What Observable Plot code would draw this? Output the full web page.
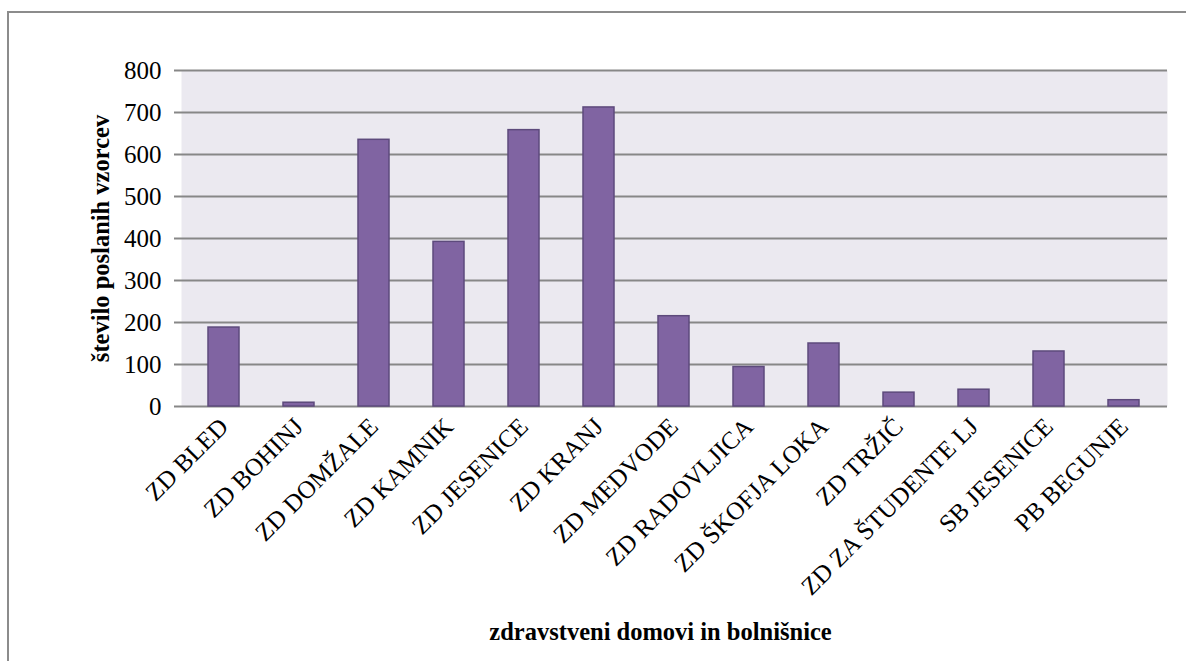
<!DOCTYPE html>
<html><head><meta charset="utf-8">
<script src="https://cdn.jsdelivr.net/npm/d3@7"></script>
<script src="https://cdn.jsdelivr.net/npm/@observablehq/plot@0.6"></script>
<style>
html,body{margin:0;padding:0;background:#fff;overflow:hidden;}
#wrap{position:relative;width:1186px;height:661px;overflow:hidden;}
#border{position:absolute;left:7px;top:11px;width:1300px;height:800px;border-left:2px solid #8c8c8c;border-top:2px solid #8c8c8c;}
#chart{position:absolute;left:0;top:0;}
#chart svg, #chart svg text{font-family:'Liberation Serif','Times New Roman',serif !important;fill:#000;}
#chart g[aria-label="y-axis tick label"] text, #chart g[aria-label="x-axis tick label"] text{font-size:25px !important;}
#chart g[aria-label="y-axis label"] text, #chart g[aria-label="text"] text{font-weight:bold;font-size:24.5px !important;}
</style></head><body>
<div id="wrap"><div id="border"></div><div id="chart"></div></div>
<script>
const categories = ["ZD BLED","ZD BOHINJ","ZD DOMŽALE","ZD KAMNIK","ZD JESENICE","ZD KRANJ","ZD MEDVODE","ZD RADOVLJICA","ZD ŠKOFJA LOKA","ZD TRŽIČ","ZD ZA ŠTUDENTE LJ","SB JESENICE","PB BEGUNJE"];
const values = [188, 9, 635, 392, 658, 712, 215, 94, 150, 33, 40, 131, 15];
const yTicks = [0,100,200,300,400,500,600,700,800];
const yTitle = "število poslanih vzorcev";
const xTitle = "zdravstveni domovi in bolnišnice";

const data = categories.map((c, i) => ({name: c, value: values[i]}));

const chart = Plot.plot({
  width: 1186, height: 661,
  marginLeft: 181, marginRight: 19, marginTop: 70, marginBottom: 255,
  style: {fontFamily: "'Liberation Serif','Times New Roman',serif", color: "#000", background: "transparent", overflow: "visible"},
  x: {domain: categories, paddingInner: 0.585, paddingOuter: 0.2925},
  y: {domain: [0, 800]},
  marks: [
    Plot.frame({fill: "#ebe9f0", stroke: null}),
    Plot.gridY(yTicks, {stroke: "#878787", strokeOpacity: 1, strokeWidth: 2}),
    Plot.barY(data, {x: "name", y: "value", fill: "#8064a2", stroke: "#5d4a7c", strokeWidth: 1.5}),
    Plot.axisY({ticks: yTicks, tickSize: 7, tickPadding: 13, stroke: "#878787", strokeWidth: 2, line: true,
      label: yTitle, labelAnchor: "center", labelOffset: 90, labelArrow: "none"}),
    Plot.axisX({tickSize: 0, tickRotate: -45, tickPadding: 16, label: null}),
    Plot.text([xTitle], {text: d => d, frameAnchor: "bottom", dy: 226, dx: -14, lineAnchor: "middle", fill: "#000"})
  ]
});
document.getElementById("chart").appendChild(chart);
</script>
</body></html>
